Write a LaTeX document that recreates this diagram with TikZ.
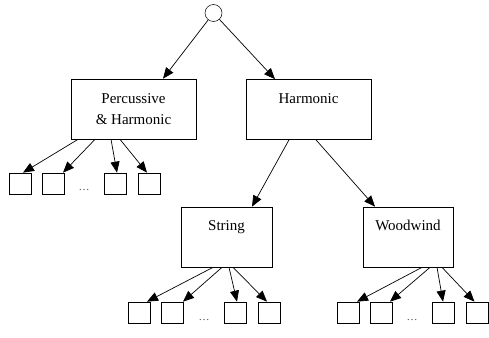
\documentclass[tikz,border=0pt]{standalone}
\usepackage{fontspec}
\setmainfont{Liberation Serif}
\usetikzlibrary{arrows.meta}

\tikzset{
  catbox/.style={draw, minimum width=125pt, minimum height=60pt, inner sep=0pt,
    align=center, font=\fontsize{15}{21}\selectfont},
  onerow/.style={text height=11pt, text depth=24pt},
  leaf/.style={draw, minimum width=22pt, minimum height=21pt, inner sep=0pt},
  gap/.style={anchor=base, text=black!70, font=\fontsize{11}{13}\selectfont},
}

\begin{document}
\begin{tikzpicture}[x=1pt, y=-1pt, line width=0.7pt, >={Triangle[length=11pt,width=9pt]}]
  \useasboundingbox (0,0) rectangle (489,337);

  % Root
  \node[draw, circle, minimum size=17pt, inner sep=0pt, line width=0.5pt] (root) at (213.5,13) {};

  % Categories
  \node[catbox] (ph) at (133.5,109) {Percussive\\ \& Harmonic};
  \node[catbox, onerow] (harm) at (308.5,109.5) {Harmonic};
  \node[catbox, onerow, minimum width=91pt] (str) at (226.5,237) {String};
  \node[catbox, onerow, minimum width=90pt] (wood) at (408,237) {Woodwind};

  % Leaves under Percussive & Harmonic
  \node[leaf] (ph1) at (20,183.5) {};
  \node[leaf] (ph2) at (53.5,183.5) {};
  \node[leaf] (ph3) at (115,183.5) {};
  \node[leaf] (ph4) at (149.5,183.5) {};
  \node[gap] (phdots) at (84,190) {\dots};

  % Leaves under String
  \node[leaf] (str1) at (139,312.5) {};
  \node[leaf] (str2) at (172.5,312.5) {};
  \node[leaf] (str3) at (235,312.5) {};
  \node[leaf] (str4) at (269,312.5) {};
  \node[gap] (strdots) at (204,320) {\dots};

  % Leaves under Woodwind
  \node[leaf] (wd1) at (348,312.5) {};
  \node[leaf] (wd2) at (381.5,312.5) {};
  \node[leaf] (wd3) at (443,312.5) {};
  \node[leaf] (wd4) at (477.5,312.5) {};
  \node[gap] (wddots) at (412,320) {\dots};

  % Top level
  \draw[->] (root) -- ([xshift=29.5pt]ph.north);
  \draw[->] (root) -- ([xshift=-33.5pt]harm.north);
  \draw[->] ([xshift=-19.5pt]harm.south) -- ([xshift=25.5pt]str.north);
  \draw[->] ([xshift=7.5pt]harm.south) -- ([xshift=-33pt]wood.north);

  % Percussive & Harmonic -> leaves
  \draw[->] ([xshift=-55.5pt]ph.south) -- ([xshift=3pt]ph1.north);
  \draw[->] ([xshift=-38.5pt]ph.south) -- ([xshift=9.5pt]ph2.north);
  \draw[->] ([xshift=-22.5pt]ph.south) -- ([xshift=2pt]ph3.north);
  \draw[->] ([xshift=-13.5pt]ph.south) -- ([xshift=-2.5pt]ph4.north);

  % String -> leaves
  \draw[->] ([xshift=-13.5pt]str.south) -- ([xshift=8pt]str1.north);
  \draw[->] ([xshift=-4.5pt]str.south) -- ([xshift=10.5pt]str2.north);
  \draw[->] ([xshift=2.5pt]str.south) -- ([xshift=2pt]str3.north);
  \draw[->] ([xshift=6.5pt]str.south) -- ([xshift=-2pt]str4.north);

  % Woodwind -> leaves
  \draw[->] ([xshift=14pt]wood.south) -- ([xshift=9pt]wd1.north);
  \draw[->] ([xshift=22pt]wood.south) -- ([xshift=8.5pt]wd2.north);
  \draw[->] ([xshift=29pt]wood.south) -- (wd3.north);
  \draw[->] ([xshift=34pt]wood.south) -- ([xshift=-3pt]wd4.north);
\end{tikzpicture}
\end{document}
